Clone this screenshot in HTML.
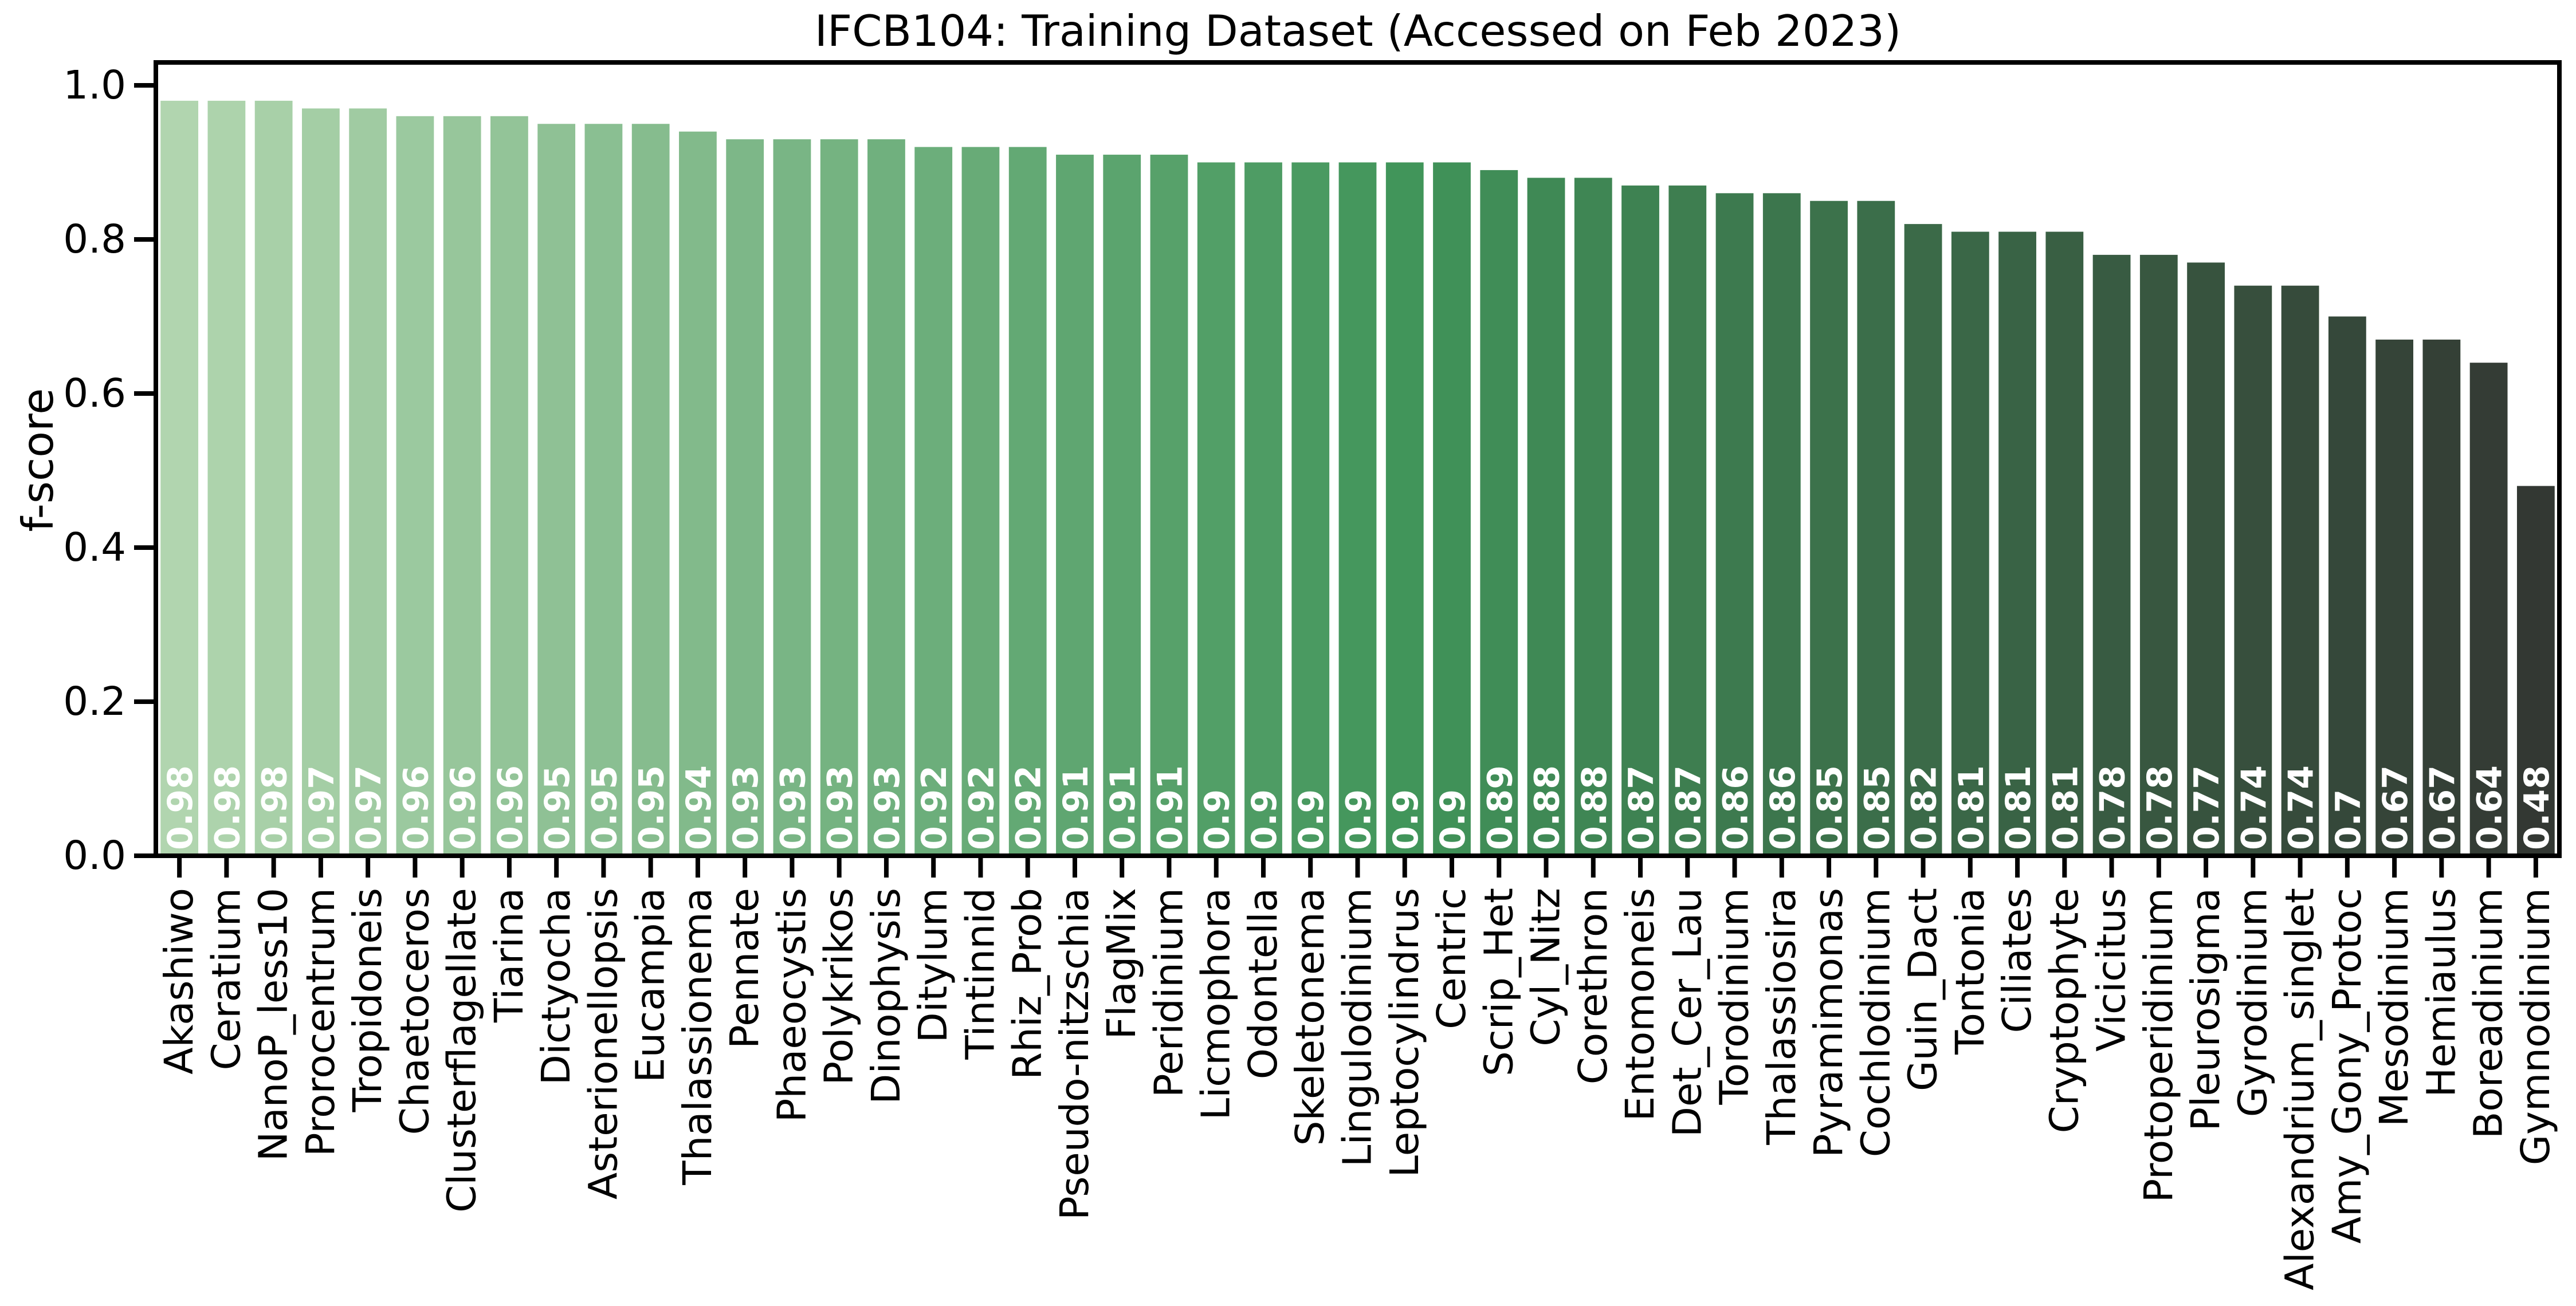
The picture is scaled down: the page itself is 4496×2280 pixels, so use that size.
<!DOCTYPE html>
<html><head><meta charset="utf-8"><style>
html,body{margin:0;padding:0;background:#fff;}
svg{display:block;font-family:"DejaVu Sans","Liberation Sans",sans-serif;}
</style></head><body>
<svg id="chart" width="4496" height="2280" viewBox="0 0 4496 2280" xmlns="http://www.w3.org/2000/svg">
<rect width="4496" height="2280" fill="#fff"/>
<text x="2370" y="80" font-size="75" text-anchor="middle">IFCB104: Training Dataset (Accessed on Feb 2023)</text>
<text transform="translate(66,803) rotate(-90)" font-size="75" text-anchor="middle" dominant-baseline="central">f-score</text>
<g id="bars"></g><g id="ticks"></g>
<rect x="272" y="109" width="4195" height="1385" fill="none" stroke="#000" stroke-width="8"/>
</svg>
<script>
const categories = ["Akashiwo","Ceratium","NanoP_less10","Prorocentrum","Tropidoneis","Chaetoceros","Clusterflagellate","Tiarina","Dictyocha","Asterionellopsis","Eucampia","Thalassionema","Pennate","Phaeocystis","Polykrikos","Dinophysis","Ditylum","Tintinnid","Rhiz_Prob","Pseudo-nitzschia","FlagMix","Peridinium","Licmophora","Odontella","Skeletonema","Lingulodinium","Leptocylindrus","Centric","Scrip_Het","Cyl_Nitz","Corethron","Entomoneis","Det_Cer_Lau","Torodinium","Thalassiosira","Pyramimonas","Cochlodinium","Guin_Dact","Tontonia","Ciliates","Cryptophyte","Vicicitus","Protoperidinium","Pleurosigma","Gyrodinium","Alexandrium_singlet","Amy_Gony_Protoc","Mesodinium","Hemiaulus","Boreadinium","Gymnodinium"];
const fscores = [0.98,0.98,0.98,0.97,0.97,0.96,0.96,0.96,0.95,0.95,0.95,0.94,0.93,0.93,0.93,0.93,0.92,0.92,0.92,0.91,0.91,0.91,0.9,0.9,0.9,0.9,0.9,0.9,0.89,0.88,0.88,0.87,0.87,0.86,0.86,0.85,0.85,0.82,0.81,0.81,0.81,0.78,0.78,0.77,0.74,0.74,0.7,0.67,0.67,0.64,0.48];
const valueLabels = ["0.98","0.98","0.98","0.97","0.97","0.96","0.96","0.96","0.95","0.95","0.95","0.94","0.93","0.93","0.93","0.93","0.92","0.92","0.92","0.91","0.91","0.91","0.9","0.9","0.9","0.9","0.9","0.9","0.89","0.88","0.88","0.87","0.87","0.86","0.86","0.85","0.85","0.82","0.81","0.81","0.81","0.78","0.78","0.77","0.74","0.74","0.7","0.67","0.67","0.64","0.48"];
const yTicks = [0,0.2,0.4,0.6,0.8,1.0];
const yTickLabels = ["0.0","0.2","0.4","0.6","0.8","1.0"];

const NS="http://www.w3.org/2000/svg";
const X0=272,X1=4467,Y0=1494,YPU=1345;
const n=categories.length, step=(X1-X0)/n;
const xC=i=>X0+step*(i+0.5);
const yS=v=>Y0-v*YPU;
function mix(a,b,t){const p=s=>[1,3,5].map(k=>parseInt(s.substr(k,2),16));const A=p(a),B=p(b);return "rgb("+A.map((v,k)=>Math.round(v+(B[k]-v)*t)).join(",")+")";}
function col(i){const m=26;return i<=m?mix("#b1d5af","#41955a",i/m):mix("#41955a","#333833",(i-m)/(n-1-m));}
function mk(tag,attrs,parent){const e=document.createElementNS(NS,tag);for(const k in attrs)e.setAttribute(k,attrs[k]);parent.appendChild(e);return e;}
const gb=document.getElementById("bars"), gt=document.getElementById("ticks");
categories.forEach((c,i)=>{
  const cx=xC(i), w=step*0.8;
  const r=mk("rect",{x:cx-w/2,y:yS(fscores[i]),width:w,height:Y0-yS(fscores[i]),fill:col(i)},gb);
  
  
  const t=mk("text",{transform:`translate(${cx+2},1484) rotate(-90)`,"font-size":60,"font-weight":"bold",fill:"#fff","dominant-baseline":"central"},gb);
  t.textContent=valueLabels[i];
  
  
  const tk=mk("line",{x1:cx,x2:cx,y1:Y0,y2:Y0+38,stroke:"#000","stroke-width":8},gt);
  
  
  const l=mk("text",{transform:`translate(${cx},1550) rotate(-90)`,"font-size":69,"text-anchor":"end","dominant-baseline":"central"},gt);
  l.textContent=c;
  
  
});
yTicks.forEach((v,i)=>{
  const y=yS(v);
  const tk=mk("line",{x1:X0-38,x2:X0,y1:y,y2:y,stroke:"#000","stroke-width":8},gt);
  
  
  const l=mk("text",{x:X0-52,y:y,"font-size":69,"text-anchor":"end","dominant-baseline":"central"},gt);
  l.textContent=yTickLabels[i];
  
  
});
</script>
</body></html>
